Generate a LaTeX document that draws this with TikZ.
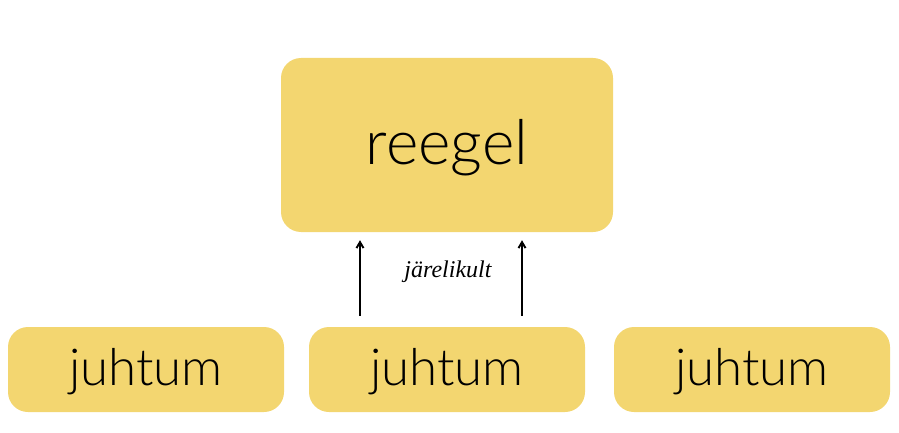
\documentclass[tikz,border=0pt]{standalone}
\usepackage{fontspec}
\setmainfont{Lato Light}
\newfontfamily\labelfont{Liberation Serif}
\usetikzlibrary{arrows.meta}
\definecolor{boxyellow}{HTML}{F3D670}
\tikzset{
  box/.style={fill=boxyellow, draw=none, rounded corners=20pt, inner sep=0pt, anchor=center},
  bigbox/.style={box, minimum width=332pt, minimum height=174pt, font=\fontsize{62}{64}\selectfont},
  smallbox/.style={box, minimum width=276pt, minimum height=85pt, font=\fontsize{51}{53}\selectfont},
  txt/.style={inner sep=0pt, anchor=center},
  arr/.style={-{Straight Barb[length=6pt,width=7pt]}, line width=1.9pt, black, shorten <=11pt, shorten >=8pt},
  lbl/.style={font=\labelfont\itshape\fontsize{24}{26}\selectfont}
}
\begin{document}
\begin{tikzpicture}[x=1pt,y=-1pt]
\useasboundingbox (0,0) rectangle (899,433);
\node[bigbox] (rule) at (447,145) {};
\node[txt, font=\fontsize{62}{64}\selectfont] (ruletext) at (447,148) {reegel};
\node[smallbox] (c1) at (146,369.5) {};
\node[smallbox] (c2) at (447,369.5) {};
\node[smallbox] (c3) at (752,369.5) {};
\node[txt, font=\fontsize{51}{53}\selectfont] (t1) at (146,372) {juhtum};
\node[txt, font=\fontsize{51}{53}\selectfont] (t2) at (447,372) {juhtum};
\node[txt, font=\fontsize{51}{53}\selectfont] (t3) at (752,372) {juhtum};
\draw[arr] ([xshift=-87pt]c2.north) -- ([xshift=-87pt]rule.south);
\draw[arr] ([xshift=75pt]c2.north) -- ([xshift=75pt]rule.south);
\node[lbl] (lab) at (448,272) {järelikult};
\end{tikzpicture}
\end{document}
